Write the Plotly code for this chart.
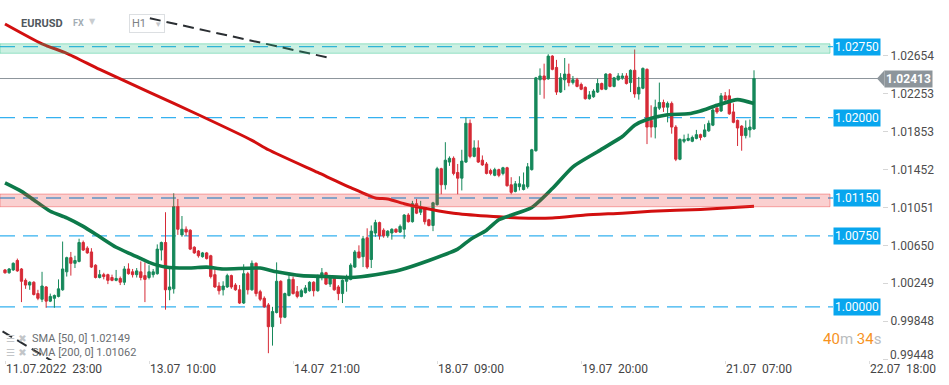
import plotly.graph_objects as go

# ---------------- data ----------------
hour_index = list(range(183))  # hourly candles, 0 = 11.07.2022 23:00

opens = [
    1.0039, 1.0036, 1.0039, 1.0049, 1.0040, 1.0028, 1.0023, 1.0026, 1.0014, 1.0008,
    1.0021, 1.0006, 1.0009, 1.0011, 1.0018, 1.0037, 1.0052, 1.0046, 1.0048, 1.0068,
    1.0062, 1.0058, 1.0044, 1.0031, 1.0034, 1.0034, 1.0031, 1.0028, 1.0030, 1.0026,
    1.0040, 1.0037, 1.0034, 1.0037, 1.0033, 1.0031, 1.0034, 1.0035, 1.0060, 1.0068,
    1.0018, 1.0019, 1.0106, 1.0076, 1.0082, 1.0081, 1.0063, 1.0059, 1.0053, 1.0057,
    1.0054, 1.0034, 1.0022, 1.0018, 1.0021, 1.0033, 1.0023, 1.0018, 1.0004, 1.0035,
    1.0018, 1.0046, 1.0016, 1.0009, 1.0002, 0.9979, 0.9994, 1.0027, 0.9989, 1.0012,
    1.0029, 1.0016, 1.0011, 1.0015, 1.0017, 1.0026, 1.0017, 1.0031, 1.0036, 1.0024,
    1.0031, 1.0021, 1.0014, 1.0027, 1.0029, 1.0042, 1.0058, 1.0053, 1.0073, 1.0050,
    1.0078, 1.0089, 1.0081, 1.0075, 1.0078, 1.0082, 1.0079, 1.0082, 1.0097, 1.0090,
    1.0109, 1.0100, 1.0104, 1.0092, 1.0086, 1.0108, 1.0146, 1.0129, 1.0153, 1.0157,
    1.0142, 1.0136, 1.0153, 1.0194, 1.0159, 1.0168, 1.0155, 1.0151, 1.0144, 1.0139,
    1.0145, 1.0141, 1.0147, 1.0129, 1.0122, 1.0127, 1.0124, 1.0127, 1.0145, 1.0165,
    1.0240, 1.0244, 1.0241, 1.0265, 1.0253, 1.0227, 1.0240, 1.0246, 1.0237, 1.0240,
    1.0235, 1.0232, 1.0220, 1.0222, 1.0227, 1.0236, 1.0230, 1.0246, 1.0233, 1.0240,
    1.0242, 1.0244, 1.0237, 1.0250, 1.0225, 1.0231, 1.0251, 1.0197, 1.0190, 1.0210,
    1.0216, 1.0211, 1.0215, 1.0190, 1.0156, 1.0175, 1.0176, 1.0175, 1.0178, 1.0182,
    1.0180, 1.0186, 1.0192, 1.0210, 1.0207, 1.0223, 1.0223, 1.0206, 1.0197, 1.0191,
    1.0181, 1.0187, 1.0188,
]
highs = [
    1.0040, 1.0041, 1.0047, 1.0051, 1.0041, 1.0030, 1.0027, 1.0027, 1.0018, 1.0037,
    1.0022, 1.0014, 1.0013, 1.0029, 1.0069, 1.0053, 1.0058, 1.0054, 1.0072, 1.0070,
    1.0064, 1.0062, 1.0045, 1.0039, 1.0036, 1.0035, 1.0034, 1.0039, 1.0032, 1.0043,
    1.0046, 1.0040, 1.0041, 1.0048, 1.0047, 1.0044, 1.0040, 1.0066, 1.0069, 1.0100,
    1.0042, 1.0120, 1.0114, 1.0096, 1.0085, 1.0082, 1.0064, 1.0060, 1.0058, 1.0058,
    1.0055, 1.0042, 1.0026, 1.0027, 1.0035, 1.0034, 1.0025, 1.0023, 1.0045, 1.0037,
    1.0049, 1.0047, 1.0018, 1.0011, 1.0004, 1.0000, 1.0047, 1.0028, 1.0015, 1.0036,
    1.0032, 1.0022, 1.0019, 1.0023, 1.0027, 1.0027, 1.0034, 1.0041, 1.0037, 1.0033,
    1.0032, 1.0023, 1.0029, 1.0034, 1.0046, 1.0060, 1.0065, 1.0075, 1.0083, 1.0086,
    1.0092, 1.0090, 1.0083, 1.0081, 1.0083, 1.0083, 1.0087, 1.0098, 1.0099, 1.0112,
    1.0114, 1.0112, 1.0105, 1.0093, 1.0111, 1.0148, 1.0147, 1.0174, 1.0159, 1.0159,
    1.0151, 1.0166, 1.0200, 1.0198, 1.0176, 1.0176, 1.0160, 1.0153, 1.0146, 1.0147,
    1.0146, 1.0148, 1.0148, 1.0137, 1.0133, 1.0138, 1.0142, 1.0152, 1.0167, 1.0243,
    1.0252, 1.0257, 1.0267, 1.0266, 1.0261, 1.0247, 1.0263, 1.0257, 1.0244, 1.0242,
    1.0237, 1.0233, 1.0228, 1.0230, 1.0241, 1.0237, 1.0247, 1.0247, 1.0243, 1.0247,
    1.0247, 1.0247, 1.0251, 1.0272, 1.0243, 1.0253, 1.0252, 1.0213, 1.0219, 1.0237,
    1.0219, 1.0217, 1.0217, 1.0192, 1.0178, 1.0182, 1.0183, 1.0181, 1.0187, 1.0183,
    1.0193, 1.0197, 1.0210, 1.0212, 1.0226, 1.0227, 1.0230, 1.0215, 1.0198, 1.0192,
    1.0197, 1.0198, 1.0250,
]
lows = [
    1.0035, 1.0035, 1.0038, 1.0037, 1.0005, 1.0019, 1.0018, 1.0012, 1.0007, 1.0005,
    0.9999, 1.0005, 0.9999, 1.0010, 1.0017, 1.0032, 1.0033, 1.0041, 1.0047, 1.0059,
    1.0056, 1.0041, 1.0030, 1.0030, 1.0029, 1.0024, 1.0027, 1.0027, 1.0023, 1.0023,
    1.0034, 1.0031, 1.0031, 1.0028, 1.0005, 1.0029, 1.0031, 1.0034, 1.0049, 0.9997,
    1.0007, 1.0014, 1.0076, 1.0074, 1.0075, 1.0060, 1.0056, 1.0052, 1.0052, 1.0050,
    1.0030, 1.0020, 1.0013, 1.0012, 1.0020, 1.0019, 1.0017, 1.0003, 1.0003, 1.0013,
    1.0017, 1.0011, 1.0006, 0.9999, 0.9951, 0.9959, 0.9993, 0.9982, 0.9988, 1.0011,
    1.0013, 1.0009, 1.0010, 1.0014, 1.0016, 1.0011, 1.0016, 1.0028, 1.0023, 1.0021,
    1.0017, 1.0007, 1.0004, 1.0016, 1.0028, 1.0041, 1.0051, 1.0042, 1.0040, 1.0041,
    1.0074, 1.0071, 1.0073, 1.0073, 1.0071, 1.0078, 1.0078, 1.0072, 1.0089, 1.0089,
    1.0098, 1.0097, 1.0087, 1.0085, 1.0080, 1.0107, 1.0119, 1.0124, 1.0149, 1.0139,
    1.0119, 1.0123, 1.0152, 1.0157, 1.0158, 1.0152, 1.0149, 1.0140, 1.0139, 1.0138,
    1.0137, 1.0139, 1.0127, 1.0119, 1.0121, 1.0123, 1.0123, 1.0125, 1.0144, 1.0164,
    1.0224, 1.0220, 1.0240, 1.0250, 1.0224, 1.0226, 1.0229, 1.0233, 1.0235, 1.0232,
    1.0229, 1.0219, 1.0219, 1.0221, 1.0226, 1.0229, 1.0229, 1.0232, 1.0232, 1.0239,
    1.0240, 1.0235, 1.0227, 1.0221, 1.0219, 1.0230, 1.0172, 1.0179, 1.0178, 1.0208,
    1.0206, 1.0195, 1.0183, 1.0154, 1.0155, 1.0173, 1.0175, 1.0174, 1.0177, 1.0176,
    1.0179, 1.0185, 1.0191, 1.0204, 1.0206, 1.0215, 1.0203, 1.0194, 1.0170, 1.0165,
    1.0178, 1.0179, 1.0187,
]
closes = [
    1.0036, 1.0040, 1.0046, 1.0038, 1.0027, 1.0023, 1.0026, 1.0013, 1.0009, 1.0022,
    1.0006, 1.0011, 1.0012, 1.0019, 1.0040, 1.0052, 1.0046, 1.0049, 1.0068, 1.0060,
    1.0057, 1.0042, 1.0031, 1.0034, 1.0032, 1.0028, 1.0028, 1.0030, 1.0026, 1.0040,
    1.0035, 1.0034, 1.0038, 1.0031, 1.0029, 1.0037, 1.0037, 1.0061, 1.0068, 1.0018,
    1.0021, 1.0106, 1.0082, 1.0082, 1.0079, 1.0061, 1.0057, 1.0054, 1.0057, 1.0051,
    1.0032, 1.0021, 1.0017, 1.0022, 1.0033, 1.0021, 1.0018, 1.0004, 1.0035, 1.0018,
    1.0046, 1.0014, 1.0008, 1.0000, 0.9979, 0.9995, 1.0027, 0.9989, 1.0014, 1.0029,
    1.0014, 1.0011, 1.0017, 1.0020, 1.0026, 1.0017, 1.0033, 1.0036, 1.0024, 1.0031,
    1.0018, 1.0014, 1.0028, 1.0031, 1.0044, 1.0058, 1.0052, 1.0072, 1.0042, 1.0080,
    1.0089, 1.0075, 1.0075, 1.0080, 1.0082, 1.0079, 1.0085, 1.0097, 1.0090, 1.0109,
    1.0099, 1.0106, 1.0090, 1.0086, 1.0110, 1.0146, 1.0129, 1.0155, 1.0157, 1.0141,
    1.0136, 1.0154, 1.0194, 1.0159, 1.0168, 1.0153, 1.0150, 1.0141, 1.0141, 1.0145,
    1.0139, 1.0147, 1.0128, 1.0121, 1.0130, 1.0130, 1.0129, 1.0148, 1.0166, 1.0242,
    1.0244, 1.0240, 1.0265, 1.0251, 1.0227, 1.0242, 1.0246, 1.0237, 1.0240, 1.0233,
    1.0230, 1.0220, 1.0224, 1.0228, 1.0236, 1.0230, 1.0246, 1.0233, 1.0242, 1.0244,
    1.0244, 1.0236, 1.0250, 1.0225, 1.0232, 1.0252, 1.0190, 1.0190, 1.0211, 1.0216,
    1.0211, 1.0215, 1.0190, 1.0156, 1.0177, 1.0177, 1.0178, 1.0179, 1.0182, 1.0179,
    1.0187, 1.0194, 1.0208, 1.0206, 1.0223, 1.0219, 1.0204, 1.0195, 1.0189, 1.0181,
    1.0189, 1.0190, 1.02413,
]

sma50_idx = [0, 4, 7, 11, 15, 19, 23, 27, 31, 35, 39, 45, 49, 53, 62, 66, 72, 78, 84,
             90, 96, 103, 110, 113, 117, 120, 128, 133, 138, 144, 150, 153, 156, 161,
             166, 169, 173, 178, 182]
sma50_val = [1.0131, 1.0122, 1.0113, 1.0101, 1.0094, 1.0085, 1.0074, 1.0063, 1.0055,
             1.0047, 1.0042, 1.0041, 1.0042, 1.0040, 1.0041, 1.0037, 1.0033, 1.0032,
             1.0031, 1.0034, 1.0039, 1.0049, 1.0061, 1.0071, 1.0081, 1.0092, 1.0105,
             1.0125, 1.0148, 1.0164, 1.0180, 1.0192, 1.0198, 1.0203, 1.0204, 1.0207,
             1.0213, 1.0219, 1.02149]

sma200_idx = [0, 9, 15, 23, 35, 47, 60, 64, 76, 84, 90, 93, 97, 101, 109, 117, 125,
              133, 141, 150, 157, 169, 182]
sma200_val = [1.0299, 1.0278, 1.0268, 1.0251, 1.0227, 1.0203, 1.0176, 1.0166, 1.0142,
              1.0126, 1.0115, 1.0114, 1.0109, 1.0105, 1.0099, 1.0096, 1.0094, 1.0094,
              1.0097, 1.0099, 1.0101, 1.0103, 1.01062]

trend1_idx = [35.2, 79.0]
trend1_val = [1.0305, 1.0263]
trend2_idx = [-0.6, 12.5]
trend2_val = [0.9974, 0.9940]

level_values = [1.0275, 1.0200, 1.0115, 1.0075, 1.0000]
zone_green = [1.0268, 1.0278]
zone_red = [1.01058, 1.01192]
last_price = 1.02413

y_tick_vals = [0.99448, 0.99848, 1.00249, 1.00650, 1.01051, 1.01452, 1.01853, 1.02253, 1.02654]
x_tick_idx = [0, 35, 70, 105, 140, 175, 210]
x_tick_text = ["11.07.2022  23:00", "13.07  10:00", "14.07  21:00", "18.07  09:00",
               "19.07  20:00", "21.07  07:00", "22.07  18:00"]
legend_names = ["SMA [50, 0]", "SMA [200, 0]"]
legend_values = [1.02149, 1.01062]
countdown = ["40", "m", "34", "s"]

# ---------------- styling ----------------
W, H = 949, 385
ML, MR, MT, MB = 0, 67, 0, 25
PW, PH = W - ML - MR, H - MT - MB
X_RANGE = [-1.215, 213.1]
Y_RANGE = [0.99438, 1.03243]
FONT = "Roboto"

GREEN = "#16885a"
RED = "#d62a36"
SMA50_C = "#0d7a4a"
SMA200_C = "#d20f0f"
BLUE_LINE = "#35b1f0"
BLUE_BOX = "#08a6ee"
GREY = "#8d959b"


def px(x):
    return x / PW


def py(y):
    return 1 - y / PH


def ypaper(v):
    return (v - Y_RANGE[0]) / (Y_RANGE[1] - Y_RANGE[0])


fig = go.Figure()

fig.add_trace(go.Candlestick(
    x=hour_index, open=opens, high=highs, low=lows, close=closes,
    increasing=dict(line=dict(color=GREEN, width=1), fillcolor=GREEN),
    decreasing=dict(line=dict(color=RED, width=1), fillcolor=RED),
    whiskerwidth=0, hoverinfo="skip", showlegend=False,
))
fig.add_trace(go.Scatter(
    x=sma200_idx, y=sma200_val, mode="lines", hoverinfo="skip", showlegend=False,
    line=dict(color=SMA200_C, width=3, shape="spline", smoothing=0.6),
))
fig.add_trace(go.Scatter(
    x=sma50_idx, y=sma50_val, mode="lines", hoverinfo="skip", showlegend=False,
    line=dict(color=SMA50_C, width=3.6, shape="spline", smoothing=0.6),
))
for tx, ty in ((trend1_idx, trend1_val), (trend2_idx, trend2_val)):
    fig.add_trace(go.Scatter(
        x=tx, y=ty, mode="lines", hoverinfo="skip", showlegend=False,
        line=dict(color="#2b2f33", width=2, dash="11px,6px"),
    ))

shapes = []
# level lines
for v in level_values:
    shapes.append(dict(type="line", xref="paper", yref="y", x0=0, x1=px(833), y0=v, y1=v,
                       line=dict(color=BLUE_LINE, width=1.4, dash="15px,8px"), layer="below"))
# current price line
shapes.append(dict(type="line", xref="paper", yref="y", x0=0, x1=px(878), y0=last_price,
                   y1=last_price, line=dict(color=GREY, width=1), layer="below"))
# zones
shapes.append(dict(type="rect", xref="paper", yref="y", x0=0, x1=px(830),
                   y0=zone_green[0], y1=zone_green[1],
                   fillcolor="rgba(30,190,130,0.23)",
                   line=dict(color="rgba(30,190,130,0.4)", width=1), layer="above"))
shapes.append(dict(type="rect", xref="paper", yref="y", x0=0, x1=px(830),
                   y0=zone_red[0], y1=zone_red[1],
                   fillcolor="rgba(235,60,60,0.24)",
                   line=dict(color="rgba(235,60,60,0.42)", width=1), layer="above"))
# arrow of current price label
yp = ypaper(last_price)
dh = 8.3 / PH
shapes.append(dict(type="path", xref="paper", yref="paper",
                   path=f"M {px(877)},{yp} L {px(884.5)},{yp + dh} L {px(884.5)},{yp - dh} Z",
                   fillcolor=GREY, line=dict(width=0), layer="above"))

annotations = []
for v in level_values:
    annotations.append(dict(xref="paper", yref="y", x=px(833), y=v, xanchor="left",
                            yanchor="middle", text=f"{v:.5f}", showarrow=False,
                            bgcolor=BLUE_BOX, borderpad=1,
                            font=dict(family=FONT, size=12, color="white")))
annotations.append(dict(xref="paper", yref="y", x=px(884), y=last_price, xanchor="left",
                        yanchor="middle", text=f"<b>{last_price:.5f}</b>", showarrow=False,
                        bgcolor=GREY, borderpad=1,
                        font=dict(family=FONT, size=12, color="white")))
# bottom y label (kept inside the picture like the platform does)
annotations.append(dict(xref="paper", yref="paper", x=px(888), y=py(355), xanchor="left",
                        yanchor="middle", text=f"{y_tick_vals[0]:.5f}", showarrow=False,
                        font=dict(family=FONT, size=12, color="#4d4d4d")))
# x tick labels (left aligned at ticks)
for xi, t in zip(x_tick_idx, x_tick_text):
    annotations.append(dict(xref="x", yref="paper", x=xi, y=0, xanchor="left", yanchor="top",
                            text=t.replace("  ", "\u00a0\u00a0"), showarrow=False,
                            font=dict(family=FONT, size=12, color="#444"), xshift=-1))
# header
annotations.append(dict(xref="paper", yref="paper", x=px(19), y=py(23), xanchor="left",
                        yanchor="middle", text="<b>EURUSD</b>", showarrow=False,
                        font=dict(family=FONT, size=11, color="#50575d")))
annotations.append(dict(xref="paper", yref="paper", x=px(71), y=py(23.5), xanchor="left",
                        yanchor="middle", text="<b>FX</b>", showarrow=False,
                        font=dict(family=FONT, size=9, color="#a3adb4")))
annotations.append(dict(xref="paper", yref="paper", x=px(87), y=py(21), xanchor="left",
                        yanchor="middle", text="▼", showarrow=False,
                        font=dict(family="DejaVu Sans", size=8, color="#c9cdd0")))
annotations.append(dict(xref="paper", yref="paper", x=px(129), y=py(23), xanchor="left",
                        yanchor="middle",
                        text="H1\u00a0\u00a0\u00a0<span style='font-size:8px;color:#c4c7ca'>▼</span>",
                        showarrow=False, bordercolor="#dcdfe2", borderwidth=1, borderpad=2,
                        font=dict(family=FONT, size=11, color="#7d8184")))
# countdown
annotations.append(dict(xref="paper", yref="paper", x=px(821), y=py(338.5), xanchor="left",
                        yanchor="middle", showarrow=False,
                        text=(f"<span style='color:#f7931e'>{countdown[0]}</span>"
                              f"<span style='color:#b9bcbe'>{countdown[1]}</span> "
                              f"<span style='color:#f7931e'>{countdown[2]}</span>"
                              f"<span style='color:#b9bcbe'>{countdown[3]}</span>"),
                        font=dict(family=FONT, size=15)))
# indicator legend
for k, (name, val) in enumerate(zip(legend_names, legend_values)):
    yy = 338 + 14 * k
    annotations.append(dict(xref="paper", yref="paper", x=px(4), y=py(yy), xanchor="left",
                            yanchor="middle", text="☰ ✖", showarrow=False,
                            font=dict(family="DejaVu Sans", size=10, color="#c2c5c8")))
    annotations.append(dict(xref="paper", yref="paper", x=px(30), y=py(yy), xanchor="left",
                            yanchor="middle", text=f"{name} {val:.5f}", showarrow=False,
                            font=dict(family=FONT, size=11, color="#6a6e72")))

fig.update_layout(
    width=W, height=H,
    margin=dict(l=ML, r=MR, t=MT, b=MB, pad=0),
    paper_bgcolor="white", plot_bgcolor="white",
    showlegend=False,
    boxgap=0.25, boxgroupgap=0.25,
    shapes=shapes, annotations=annotations,
    xaxis=dict(range=X_RANGE, showgrid=False, zeroline=False, showline=False,
               rangeslider=dict(visible=False), showticklabels=False,
               tickvals=x_tick_idx, ticks="outside", ticklen=3, tickcolor="#dddddd"),
    yaxis=dict(range=Y_RANGE, side="right", showgrid=False, zeroline=False, showline=False,
               tickvals=y_tick_vals,
               ticktext=[""] + [f"{v:.5f}" for v in y_tick_vals[1:]],
               ticks="outside", ticklen=5, tickcolor="#d6d6d6",
               tickfont=dict(family=FONT, size=12, color="#4d4d4d")),
    font=dict(family=FONT),
)

fig.write_html("out.html", config={"displayModeBar": False},
               post_script="document.body.style.margin='0';document.body.style.overflow='hidden';")
